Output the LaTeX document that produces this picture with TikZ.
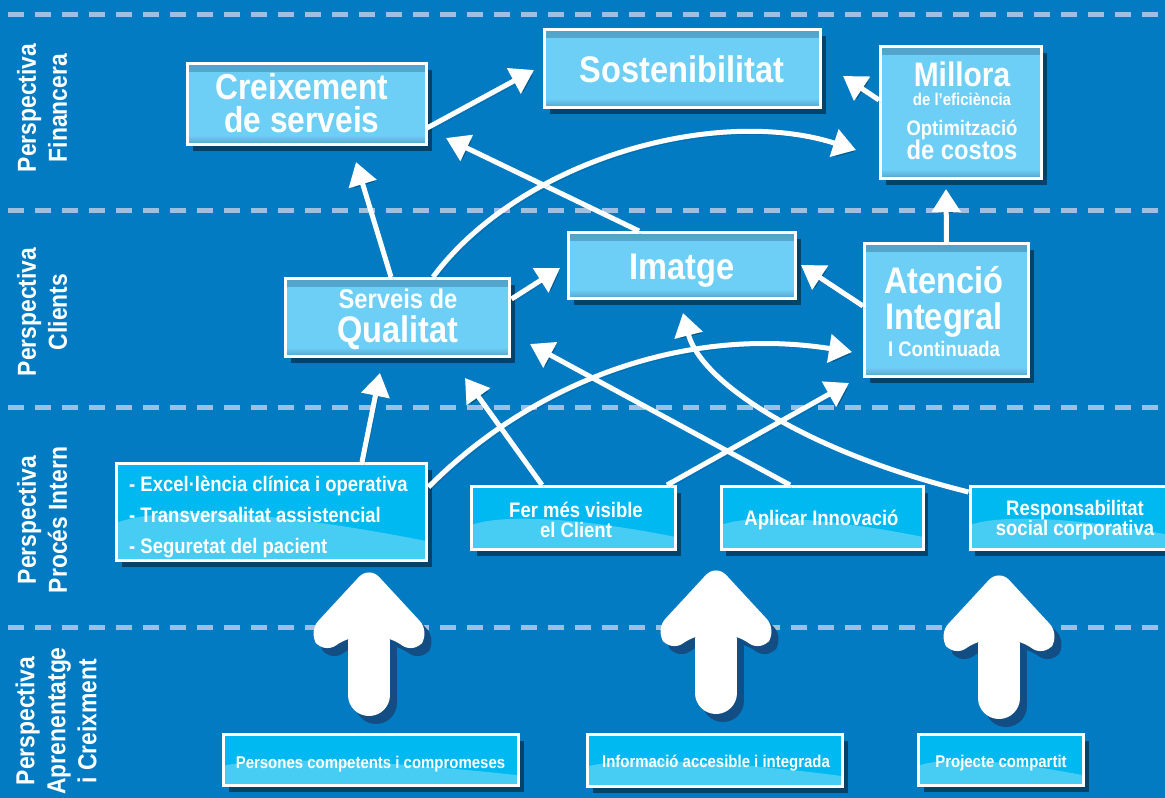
\documentclass[tikz,border=0pt]{standalone}
\usepackage{fontspec}
\setmainfont{Liberation Sans}[FakeStretch=0.88]
\usetikzlibrary{arrows.meta,shadows,calc,fadings}
\definecolor{bgblue}{RGB}{3,123,194}
\definecolor{dashc}{RGB}{158,190,228}
\definecolor{upblue}{RGB}{110,207,246}
\definecolor{lowblue}{RGB}{0,185,240}
\definecolor{shadowc}{RGB}{18,78,132}
\definecolor{edgec}{RGB}{20,60,100}
\newcommand\myfs[1]{\fontsize{#1}{#1}\selectfont\bfseries}
\newcommand\fatarrow[2]{%
 \begin{scope}[shift={(#1,#2)}]
  \begin{scope}[shift={(7,8)}]
   \fill[shadowc,rounded corners=15pt] (0,-6) -- (61,60) -- (45,82) -- (20,64) -- (-20,64) -- (-45,82) -- (-61,60) -- cycle;
   \draw[shadowc,line width=42pt,line cap=round] (0,70) -- (0,123);
  \end{scope}
  \fill[white,rounded corners=15pt] (0,-6) -- (61,60) -- (45,82) -- (20,64) -- (-20,64) -- (-45,82) -- (-61,60) -- cycle;
  \draw[white,line width=42pt,line cap=round] (0,70) -- (0,123);
 \end{scope}}
\tikzset{
 boxshadow/.style={drop shadow={shadow xshift=5pt,shadow yshift=-6pt,opacity=.45,fill=black}},
 upbox/.style={draw=white,line width=3pt,fill=upblue,inner sep=0pt,boxshadow,
  path picture={\fill[edgec,opacity=.3,path fading=south] (path picture bounding box.north west) rectangle ([yshift=-9pt]path picture bounding box.north east);
   \fill[edgec,opacity=.3,path fading=north] (path picture bounding box.south west) rectangle ([yshift=9pt]path picture bounding box.south east);}},
 lowbox/.style={draw=white,line width=3pt,fill=lowblue,inner sep=0pt,boxshadow,
  path picture={\fill[white,opacity=.28] let \p1=(path picture bounding box.south west), \p2=(path picture bounding box.north east) in
   (\x1,\y1) -- (\x1,{\y1+0.39*(\y2-\y1)}) .. controls ({\x1+0.15*(\x2-\x1)},{\y1+0.56*(\y2-\y1)}) and ({\x1+0.5*(\x2-\x1)},{\y1+0.52*(\y2-\y1)}) .. (\x2,{\y1+0.2*(\y2-\y1)}) -- (\x2,\y1) -- cycle;}},
 txt/.style={text=white,inner sep=0pt,anchor=base},
 conn/.style={draw=white,line width=5pt,-{Triangle[width=28pt,length=23pt]},
  preaction={draw=black,opacity=.22,transform canvas={shift={(2.5pt,-3pt)}}}},
 sepline/.style={draw=dashc,line width=5pt,dash pattern=on 16pt off 11pt},
 lbl/.style={text=white,font=\bfseries\fontsize{26}{31}\selectfont,align=center,rotate=90,inner sep=0pt},
}
\begin{document}
\begin{tikzpicture}[x=1pt,y=-1pt]
\useasboundingbox (0,0) rectangle (1165,798);
\clip (0,0) rectangle (1165,798);
\fill[bgblue] (0,0) rectangle (1165,798);
% separators
\draw[sepline] (8,14) -- (1170,14);
\draw[sepline] (8,210) -- (1170,210);
\draw[sepline] (8,407) -- (1170,407);
\draw[sepline] (8,627) -- (1170,627);
% row labels
\node[lbl] (lab1) at (42,108) {Perspectiva\\Financera};
\node[lbl] (lab2) at (42,312) {Perspectiva\\Clients};
\node[lbl] (lab3) at (42,520) {Perspectiva\\Procés Intern};
\node[lbl] (lab4) at (56,721) {Perspectiva\\Aprenentatge\\i Creixment};
% big arrows
\fatarrow{369}{572}
\fatarrow{716}{570}
\fatarrow{999}{575}
% boxes
\node[upbox,minimum width=239pt,minimum height=81pt] (cre) at (307,104) {};
\node[upbox,minimum width=276pt,minimum height=78pt] (sos) at (682.5,68.5) {};
\node[upbox,minimum width=161pt,minimum height=132pt] (mil) at (961,112.5) {};
\node[upbox,minimum width=224pt,minimum height=78pt] (ser) at (397.5,317.5) {};
\node[upbox,minimum width=227pt,minimum height=66pt] (ima) at (682,265.5) {};
\node[upbox,minimum width=164pt,minimum height=133pt] (ate) at (946.5,310) {};
\node[lowbox,minimum width=310pt,minimum height=97pt] (exc) at (271.5,512) {};
\node[lowbox,minimum width=204pt,minimum height=63pt] (fer) at (573.5,518) {};
\node[lowbox,minimum width=202pt,minimum height=63pt] (apl) at (822,518) {};
\node[lowbox,minimum width=210pt,minimum height=63pt] (res) at (1075,518) {};
\node[lowbox,minimum width=295pt,minimum height=51pt] (per) at (371,760) {};
\node[lowbox,minimum width=255pt,minimum height=52pt] (inf) at (715,760.5) {};
\node[lowbox,minimum width=165pt,minimum height=51pt] (pro) at (1001,760) {};
% texts
\node[txt] (cre-t1) at (302,99) {\myfs{36}Creixement};
\node[txt] (cre-t2) at (302,132) {\myfs{36}de serveis};
\node[txt] (sos-t) at (682,82) {\myfs{37}Sostenibilitat};
\node[txt] (mil-t1) at (962,86) {\myfs{34}Millora};
\node[txt] (mil-t2) at (962,105) {\myfs{17}de l’eficiència};
\node[txt] (mil-t3) at (962,135) {\myfs{21}Optimització};
\node[txt] (mil-t4) at (962,159) {\myfs{27}de costos};
\node[txt] (ser-t1) at (398,308) {\myfs{27}Serveis de};
\node[txt] (ser-t2) at (398,342) {\myfs{37}Qualitat};
\node[txt] (ima-t) at (682,279) {\myfs{37}Imatge};
\node[txt] (ate-t1) at (944,293) {\myfs{37}Atenció};
\node[txt] (ate-t2) at (944,329) {\myfs{37}Integral};
\node[txt] (ate-t3) at (944,356) {\myfs{21}I Continuada};
\node[txt,anchor=base west] (exc-t1) at (129,491) {\myfs{21}- Excel·lència clínica i operativa};
\node[txt,anchor=base west] (exc-t2) at (129,522) {\myfs{21}- Transversalitat assistencial};
\node[txt,anchor=base west] (exc-t3) at (129,553) {\myfs{21}- Seguretat del pacient};
\node[txt] (fer-t1) at (576,517) {\myfs{21}Fer més visible};
\node[txt] (fer-t2) at (576,537) {\myfs{21}el Client};
\node[txt] (apl-t) at (821.5,525) {\myfs{21}Aplicar Innovació};
\node[txt] (res-t1) at (1075,515) {\myfs{21}Responsabilitat};
\node[txt] (res-t2) at (1075,535) {\myfs{21}social corporativa};
\node[txt] (per-t) at (370.5,768) {\myfs{17}Persones competents i compromeses};
\node[txt] (inf-t) at (716,767) {\myfs{17}Informació accesible i integrada};
\node[txt] (pro-t) at (1001,767) {\myfs{17}Projecte compartit};
% connectors
\draw[conn] ([shift={(-1,24)}]cre.east) -- ([shift={(-9,1.5)}]sos.west);
\draw[conn] ([shift={(0,-12.5)}]mil.west) -- ([shift={(21,7.5)}]sos.east);
\draw[conn] ([shift={(-43,0)}]ima.north) -- ([shift={(18,-8)}]cre.south east);
\draw[conn] ([shift={(-6.5,0)}]ser.north) -- ([shift={(49,16)}]cre.south);
\draw[conn] ([shift={(35.5,0)}]ser.north) .. controls (520,160) and (715,105) .. ([shift={(-23,37.5)}]mil.west);
\draw[conn] ([shift={(0.5,-18.5)}]ser.east) -- ([shift={(-7,2.5)}]ima.west);
\draw[conn] ([shift={(0,-4)}]ate.west) -- ([shift={(4,-0.5)}]ima.east);
\draw[conn] (ate.north) -- ([shift={(-15,9)}]mil.south);
\draw[conn] ([shift={(90.5,0)}]exc.north) -- ([shift={(-17.5,15)}]ser.south);
\draw[conn] ([shift={(0.5,-25)}]exc.east) .. controls (530,385) and (680,325) .. ([shift={(-11,42)}]ate.west);
\draw[conn] ([shift={(-31.5,0)}]fer.north) -- ([shift={(-46,20)}]ser.south east);
\draw[conn] ([shift={(93.5,0)}]fer.north) -- ([shift={(-14,5)}]ate.south west);
\draw[conn] ([shift={(-32,0)}]apl.north) -- ([shift={(19,26.5)}]ser.east);
\draw[conn] ([shift={(0,-26)}]res.west) .. controls (800,450) and (700,380) .. ([shift={(1,13)}]ima.south);
\end{tikzpicture}
\end{document}
